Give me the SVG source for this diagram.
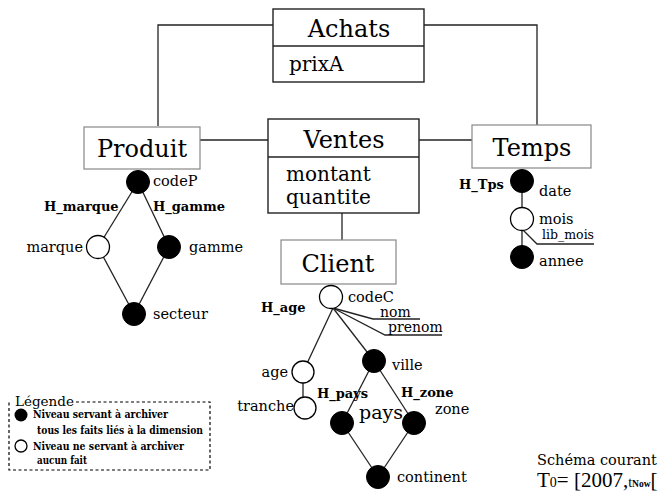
<svg xmlns="http://www.w3.org/2000/svg" width="659" height="493" viewBox="0 0 659 493">
<style>
.t{font-family:"DejaVu Serif","Liberation Serif",serif;fill:#000}
.big{font-size:24px}
.lab{font-size:14.5px}
.b{font-family:"DejaVu Serif","Liberation Serif",serif;font-weight:bold;font-size:13px;fill:#000}
.lg{font-family:"DejaVu Serif","Liberation Serif",serif;font-weight:bold;font-size:10.5px;fill:#000}
.fact{fill:#fff;stroke:#222;stroke-width:1.4}
.dim{fill:#fff;stroke:#888;stroke-width:1.2}
.ln{stroke:#222;stroke-width:1.3;fill:none}
.blk{fill:#000;stroke:#000;stroke-width:1}
.wht{fill:#fff;stroke:#000;stroke-width:1.3}
.dash{stroke:#000;stroke-width:1.2;stroke-dasharray:3,2.5;fill:none}
</style>
<g id="connectors">
<polyline class="ln" points="273,25 158,25 158,126"/>
<polyline class="ln" points="424,25 537,25 537,125"/>
<line class="ln" x1="200" y1="140" x2="268" y2="140"/>
<line class="ln" x1="419" y1="140" x2="472" y2="140"/>
<line class="ln" x1="342" y1="213" x2="342" y2="240"/>
</g>
<g id="achats">
<rect class="fact" x="273" y="9" width="151" height="73"/>
<line class="ln" x1="273" y1="46" x2="424" y2="46"/>
<text class="t big" x="349" y="37" text-anchor="middle">Achats</text>
<text class="t" x="289" y="71" font-size="20">prixA</text>
</g>
<g id="ventes">
<rect class="fact" x="268" y="119" width="151" height="94"/>
<line class="ln" x1="268" y1="157" x2="419" y2="157"/>
<text class="t big" x="344" y="148" text-anchor="middle">Ventes</text>
<text class="t" x="286" y="181" font-size="20">montant</text>
<text class="t" x="286" y="204" font-size="20">quantite</text>
</g>
<g id="produit">
<rect class="dim" x="84" y="127" width="116" height="42"/>
<text class="t big" x="142" y="157" text-anchor="middle">Produit</text>
</g>
<g id="temps">
<rect class="dim" x="472" y="125" width="119" height="43"/>
<text class="t big" x="532" y="156" text-anchor="middle">Temps</text>
</g>
<g id="client">
<rect class="dim" x="281" y="240" width="115" height="44"/>
<text class="t big" x="338" y="272" text-anchor="middle">Client</text>
</g>
<g id="hier-produit">
<line class="ln" x1="138" y1="182" x2="98" y2="247"/>
<line class="ln" x1="138" y1="182" x2="169" y2="247"/>
<line class="ln" x1="98" y1="247" x2="134" y2="314"/>
<line class="ln" x1="169" y1="247" x2="134" y2="314"/>
<circle class="blk" cx="138" cy="182" r="11.5"/>
<circle class="wht" cx="98" cy="247" r="11.5"/>
<circle class="blk" cx="169" cy="247" r="11.5"/>
<circle class="blk" cx="134" cy="314" r="11.5"/>
<text class="t lab" x="153" y="186">codeP</text>
<text class="b" x="44" y="211">H_marque</text>
<text class="b" x="153" y="211">H_gamme</text>
<text class="t lab" x="83" y="252" text-anchor="end">marque</text>
<text class="t lab" x="189" y="252">gamme</text>
<text class="t lab" x="153" y="319">secteur</text>
</g>
<g id="hier-temps">
<line class="ln" x1="522" y1="181" x2="522" y2="257"/>
<polyline class="ln" points="522,229 537,244 594,244"/>
<circle class="blk" cx="522" cy="181" r="11.5"/>
<circle class="wht" cx="522" cy="219" r="11.5"/>
<circle class="blk" cx="522" cy="257" r="11.5"/>
<text class="b" x="459" y="189">H_Tps</text>
<text class="t lab" x="539" y="196">date</text>
<text class="t lab" x="539" y="224">mois</text>
<text class="t" x="542" y="239" font-size="12.5">lib_mois</text>
<text class="t lab" x="539" y="266">annee</text>
</g>
<g id="hier-client">
<polyline class="ln" points="333,308 373,319 420,319"/>
<polyline class="ln" points="333,308 385,335 442,335"/>
<line class="ln" x1="333" y1="308" x2="303" y2="372"/>
<line class="ln" x1="333" y1="308" x2="374" y2="361"/>
<line class="ln" x1="303" y1="372" x2="303" y2="408"/>
<line class="ln" x1="374" y1="361" x2="342" y2="423"/>
<line class="ln" x1="374" y1="361" x2="414" y2="423"/>
<line class="ln" x1="342" y1="423" x2="378" y2="477"/>
<line class="ln" x1="414" y1="423" x2="378" y2="477"/>
<circle class="wht" cx="331" cy="297" r="11.5"/>
<circle class="wht" cx="303" cy="372" r="11"/>
<circle class="wht" cx="305" cy="408" r="11"/>
<circle class="blk" cx="374" cy="361" r="11.5"/>
<circle class="blk" cx="342" cy="423" r="11.5"/>
<circle class="blk" cx="414" cy="423" r="11.5"/>
<circle class="blk" cx="378" cy="477" r="11.5"/>
<text class="t lab" x="348" y="302">codeC</text>
<text class="b" x="261" y="312">H_age</text>
<text class="t" x="380" y="317" font-size="14">nom</text>
<text class="t" x="388" y="332" font-size="14">prenom</text>
<text class="t lab" x="288" y="377" text-anchor="end">age</text>
<text class="t lab" x="294" y="411" text-anchor="end">tranche</text>
<text class="t lab" x="392" y="370">ville</text>
<text class="b" x="317" y="398">H_pays</text>
<text class="b" x="401" y="397">H_zone</text>
<text class="t" x="359" y="419" font-size="19">pays</text>
<text class="t lab" x="435" y="414">zone</text>
<text class="t lab" x="397" y="482">continent</text>
</g>
<g id="legende">
<polyline class="dash" points="76,402 210,402 210,470 9,470 9,402"/>
<text class="t" x="15" y="406" font-size="13.5">Légende</text>
<circle cx="21" cy="415" r="6.5" fill="#000"/>
<circle cx="21" cy="446" r="6" fill="#fff" stroke="#000" stroke-width="1.3"/>
<text class="lg" x="33" y="418" textLength="135" lengthAdjust="spacingAndGlyphs">Niveau servant à archiver</text>
<text class="lg" x="37" y="434" textLength="166" lengthAdjust="spacingAndGlyphs">tous les faits liés à la dimension</text>
<text class="lg" x="33" y="450" textLength="151" lengthAdjust="spacingAndGlyphs">Niveau ne servant à archiver</text>
<text class="lg" x="37" y="464" textLength="50" lengthAdjust="spacingAndGlyphs">aucun fait</text>
</g>
<g id="schema">
<text class="t" x="537" y="465" font-size="14.5">Schéma courant</text>
<text x="537" y="487" font-family="'Liberation Serif',serif" font-size="21">T<tspan font-size="14">0</tspan>= [2007,<tspan font-size="14">t</tspan><tspan font-size="9.5" font-weight="bold">Now</tspan>[</text>
</g>
</svg>
